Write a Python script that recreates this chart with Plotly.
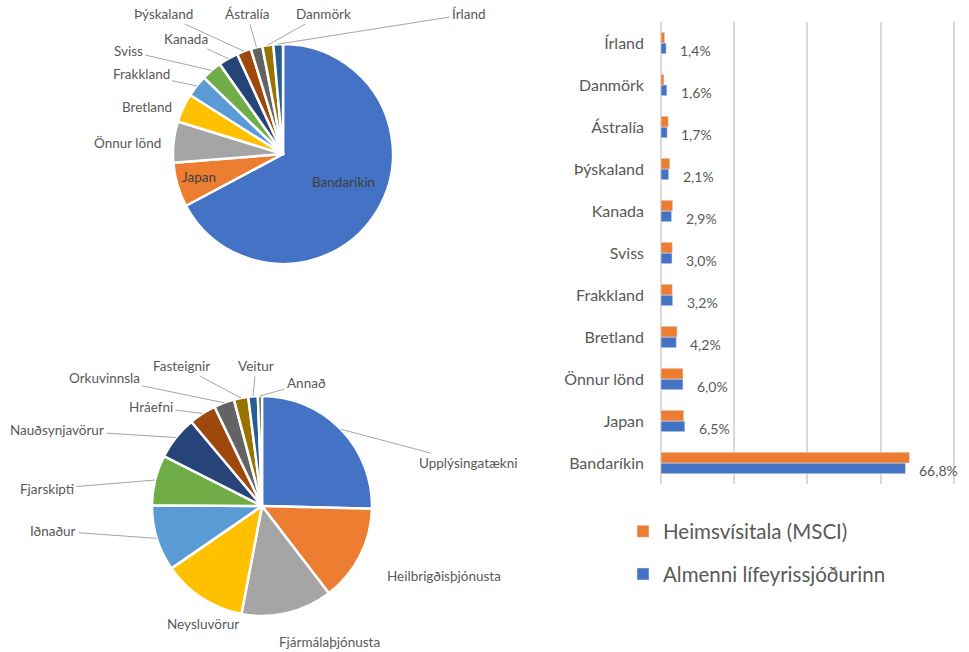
import math
import plotly.graph_objects as go

# ---------------- data ----------------
countries = ["Bandaríkin", "Japan", "Önnur lönd", "Bretland", "Frakkland", "Sviss",
             "Kanada", "Þýskaland", "Ástralía", "Danmörk", "Írland"]
fund_pct = [66.8, 6.5, 6.0, 4.2, 3.2, 3.0, 2.9, 2.1, 1.7, 1.6, 1.4]
msci_pct = [67.9, 6.2, 6.0, 4.4, 3.1, 3.1, 3.2, 2.4, 2.0, 0.8, 1.0]

sectors = ["Upplýsingatækni", "Heilbrigðisþjónusta", "Fjármálaþjónusta", "Neysluvörur",
           "Iðnaður", "Fjarskipti", "Nauðsynjavörur", "Hráefni", "Orkuvinnsla",
           "Fasteignir", "Veitur", "Annað"]
sector_pct = [25.4, 14.2, 13.4, 12.4, 9.7, 7.4, 6.4, 4.0, 3.0, 2.1, 1.4, 0.6]

series_names = ["Heimsvísitala (MSCI)", "Almenni lífeyrissjóðurinn"]

# ---------------- styles / layout ----------------
W, H = 969, 652
FONT = "Lato, 'Open Sans', sans-serif"
TXT = "#595959"
office = ["#4472C4", "#ED7D31", "#A5A5A5", "#FFC000", "#5B9BD5", "#70AD47",
          "#264478", "#9E480E", "#636363", "#997300", "#255E91", "#43682B"]

# pie geometry (pixels): centre x, centre y, radius
pie1 = (283, 154, 110)
pie2 = (262, 506, 110)

# label placement (pixel centres) and whether a leader line is drawn
pie1_labels = [(343, 182, False), (199, 177, False), (128, 143, False), (147, 107, False),
               (141, 74, True), (128, 51, True), (186, 39, True), (163, 14, True),
               (247, 14, True), (323, 14, True), (469, 14, True)]
pie2_labels = [(468, 463, True), (444, 576, False), (329, 642, False), (203, 624, False),
               (53, 531, True), (47, 489, True), (57, 430, True), (151, 407, True),
               (104, 378, True), (181, 366, True), (256, 366, True), (306, 383, True)]


def dom(geom):
    cx, cy, r = geom
    return dict(x=[(cx - r) / W, (cx + r) / W], y=[1 - (cy + r) / H, 1 - (cy - r) / H])


fig = go.Figure()

fig.add_trace(go.Pie(labels=countries, values=fund_pct, sort=False, direction="clockwise",
                     rotation=0, textinfo="none", hoverinfo="label+percent",
                     marker=dict(colors=office[:len(countries)], line=dict(color="white", width=2.5)),
                     domain=dom(pie1), showlegend=False))
fig.add_trace(go.Pie(labels=sectors, values=sector_pct, sort=False, direction="clockwise",
                     rotation=0, textinfo="none", hoverinfo="label+percent",
                     marker=dict(colors=office[:len(sectors)], line=dict(color="white", width=2.5)),
                     domain=dom(pie2), showlegend=False))

fig.add_trace(go.Bar(y=countries, x=fund_pct, orientation="h", name=series_names[1],
                     marker=dict(color="#4472C4"), legendrank=2, legendgroup="b"))
fig.add_trace(go.Bar(y=countries, x=msci_pct, orientation="h", name=series_names[0],
                     marker=dict(color="#ED7D31"), legendrank=1, legendgroup="a"))

annotations = []


def pie_annotations(labels, values, geom, places):
    cx, cy, r = geom
    total = float(sum(values))
    cum = 0.0
    for lab, v, (lx, ly, arrow) in zip(labels, values, places):
        mid = (cum + v / 2.0) / total
        cum += v
        ang = 2 * math.pi * mid
        tx = cx + r * math.sin(ang)
        ty = cy - r * math.cos(ang)
        col = "#404040" if (lab in ("Bandaríkin", "Japan")) else TXT
        if arrow:
            annotations.append(dict(x=tx / W, y=1 - ty / H, xref="paper", yref="paper",
                                    text=lab, showarrow=True, arrowhead=0, arrowwidth=1,
                                    arrowcolor="#A6A6A6", ax=lx - tx, ay=ly - ty,
                                    standoff=0, startstandoff=1,
                                    font=dict(family=FONT, size=13.5, color=col)))
        else:
            annotations.append(dict(x=lx / W, y=1 - ly / H, xref="paper", yref="paper",
                                    text=lab, showarrow=False, xanchor="center", yanchor="middle",
                                    font=dict(family=FONT, size=13.5, color=col)))


pie_annotations(countries, fund_pct, pie1, pie1_labels)
pie_annotations(sectors, sector_pct, pie2, pie2_labels)

for c, v in zip(countries, fund_pct):
    annotations.append(dict(x=v, y=c, xref="x", yref="y", text=f"{v:.1f}".replace(".", ",") + "%",
                            showarrow=False, xanchor="left", yanchor="middle", xshift=12, yshift=-7,
                            font=dict(family=FONT, size=14, color=TXT)))

fig.update_layout(
    width=W, height=H,
    margin=dict(l=0, r=0, t=0, b=0, autoexpand=False),
    paper_bgcolor="white", plot_bgcolor="white",
    font=dict(family=FONT, color=TXT),
    barmode="group", bargap=0.49, bargroupgap=0,
    xaxis=dict(domain=[661 / W, 955.6 / W], range=[0, 80.5], dtick=20, tick0=0,
               showticklabels=False, showgrid=True, gridcolor="#D9D9D9", gridwidth=2,
               zeroline=True, zerolinecolor="#D9D9D9", zerolinewidth=2, showline=False,
               fixedrange=True),
    yaxis=dict(domain=[1 - 484 / H, 1 - 22 / H], categoryorder="array", categoryarray=countries,
               tickfont=dict(family=FONT, size=16, color=TXT), ticks="", showgrid=False,
               showline=False, ticklabelstandoff=16, fixedrange=True),
    legend=dict(x=623 / W, xanchor="left", y=1 - 553 / H, yanchor="middle",
                font=dict(family=FONT, size=20.5, color=TXT), tracegroupgap=13,
                bgcolor="rgba(0,0,0,0)"),
    annotations=annotations,
)

fig.write_html("out.html", config={"displayModeBar": False},
               post_script="document.body.style.margin='0';")
